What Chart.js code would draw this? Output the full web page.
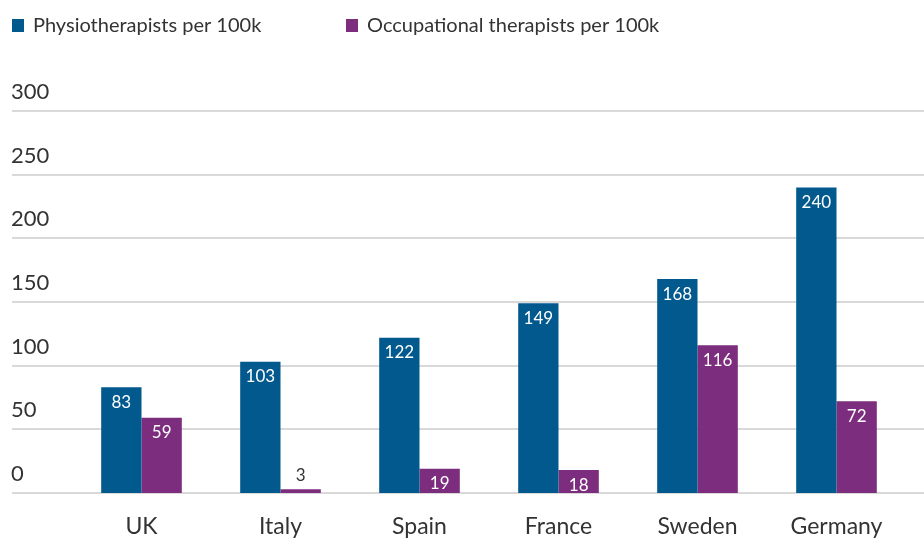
<!DOCTYPE html>
<html>
<head>
<meta charset="utf-8">
<script src="https://cdn.jsdelivr.net/npm/chart.js@4"></script>
<style>
html,body{margin:0;padding:0;background:#fff;}
#wrap{width:924px;height:538px;position:relative;}
</style>
</head>
<body>
<div id="wrap"><canvas id="c" width="924" height="538"></canvas></div>
<script>
const categories = ["UK", "Italy", "Spain", "France", "Sweden", "Germany"];
const physio = [83, 103, 122, 149, 168, 240];
const occupational = [59, 3, 19, 18, 116, 72];
const seriesNames = ["Physiotherapists per 100k", "Occupational therapists per 100k"];
const yTicks = [0, 50, 100, 150, 200, 250, 300];

const BLUE = "#02598e";
const PURPLE = "#7c2d7d";
const FONT = "Lato, 'Open Sans', sans-serif";
const TEXT = "#333333";

const decor = {
  id: "decor",
  beforeDatasetsDraw(chart) {
    const ctx = chart.ctx;
    const y = chart.scales.y;
    ctx.save();
    ctx.strokeStyle = "#d9d9d9";
    ctx.lineWidth = 2;
    ctx.font = "22px " + FONT;
    ctx.fillStyle = TEXT;
    ctx.textAlign = "left";
    ctx.textBaseline = "alphabetic";
    yTicks.forEach(v => {
      const py = Math.round(y.getPixelForValue(v));
      ctx.beginPath();
      ctx.moveTo(12, py);
      ctx.lineTo(chart.width, py);
      ctx.stroke();
      ctx.fillText(String(v), 11, py - 12);
    });
    // legend
    const items = [{x: 12, c: BLUE, t: seriesNames[0]}, {x: 346, c: PURPLE, t: seriesNames[1]}];
    ctx.font = "20px " + FONT;
    ctx.textBaseline = "middle";
    items.forEach(it => {
      ctx.fillStyle = it.c;
      ctx.fillRect(it.x, 19, 12, 13);
      ctx.fillStyle = TEXT;
      ctx.fillText(it.t, it.x + 21, 26);
    });
    ctx.restore();
  },
  afterDatasetsDraw(chart) {
    const ctx = chart.ctx;
    const x = chart.scales.x;
    ctx.save();
    // x labels
    ctx.font = "23px " + FONT;
    ctx.fillStyle = TEXT;
    ctx.textAlign = "center";
    ctx.textBaseline = "middle";
    categories.forEach((c, i) => {
      ctx.fillText(c, x.getPixelForValue(i), 527);
    });
    // value labels
    ctx.font = "17px " + FONT;
    chart.data.datasets.forEach((ds, di) => {
      const meta = chart.getDatasetMeta(di);
      meta.data.forEach((bar, i) => {
        const v = ds.data[i];
        const h = bar.base - bar.y;
        if (h > 20) {
          ctx.fillStyle = "#ffffff";
          ctx.fillText(String(v), bar.x, bar.y + 15);
        } else {
          ctx.fillStyle = TEXT;
          ctx.fillText(String(v), bar.x, bar.y - 14);
        }
      });
    });
    ctx.restore();
  }
};

new Chart(document.getElementById("c"), {
  type: "bar",
  data: {
    labels: categories,
    datasets: [
      {label: seriesNames[0], data: physio, backgroundColor: BLUE, borderWidth: 0},
      {label: seriesNames[1], data: occupational, backgroundColor: PURPLE, borderWidth: 0}
    ]
  },
  options: {
    responsive: false,
    animation: false,
    layout: {padding: {left: 72, right: 18, top: 111, bottom: 45}},
    plugins: {legend: {display: false}, tooltip: {enabled: false}},
    datasets: {bar: {categoryPercentage: 0.58, barPercentage: 1.0}},
    scales: {
      x: {display: false},
      y: {display: false, min: 0, max: 300}
    }
  },
  plugins: [decor]
});
</script>
</body>
</html>
